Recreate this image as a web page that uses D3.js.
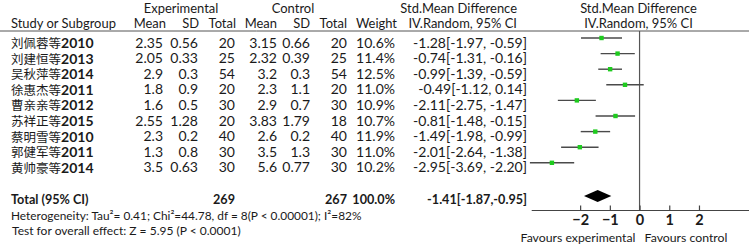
<!DOCTYPE html>
<html>
<head>
<meta charset="utf-8">
<script src="https://cdn.jsdelivr.net/npm/d3@7"></script>
<style>
html,body{margin:0;padding:0;background:#fff;}
svg{display:block;}
text{font-family:Lato,"Open Sans",sans-serif;fill:#1a1a1a;}
</style>
</head>
<body>
<svg id="chart" width="749" height="244"></svg>
<script>
const studies = ["刘佩蓉等2010","刘建恒等2013","吴秋萍等2014","徐惠杰等2011","曹亲亲等2012","苏祥正等2015","蔡明雪等2010","郭健军等2011","黄帅豪等2014"];
const expMean = [2.35, 2.05, 2.9, 1.8, 1.6, 2.55, 2.3, 1.3, 3.5];
const expSD = [0.56, 0.33, 0.3, 0.9, 0.5, 1.28, 0.2, 0.8, 0.63];
const expTotal = [20, 25, 54, 20, 30, 20, 40, 30, 30];
const ctlMean = [3.15, 2.32, 3.2, 2.3, 2.9, 3.83, 2.6, 3.5, 5.6];
const ctlSD = [0.66, 0.39, 0.3, 1.1, 0.7, 1.79, 0.2, 1.3, 0.77];
const ctlTotal = [20, 25, 54, 20, 30, 18, 40, 30, 30];
const weights = [10.6, 11.4, 12.5, 11.0, 10.9, 10.7, 11.9, 11.0, 10.2];
const smd = [-1.28, -0.74, -0.99, -0.49, -2.11, -0.81, -1.49, -2.01, -2.95];
const ciLow = [-1.97, -1.31, -1.39, -1.12, -2.75, -1.48, -1.98, -2.64, -3.69];
const ciHigh = [-0.59, -0.16, -0.59, 0.14, -1.47, -0.15, -0.99, -1.38, -2.20];
const total = {exp: 269, ctl: 267, weight: 100.0, smd: -1.41, low: -1.87, high: -0.95};
const tickValues = [-2, -1, 0, 1, 2];
const heterogeneity = "Heterogeneity: Tau²= 0.41; Chi²=44.78, df = 8(P < 0.00001); I²=82%";
const overall = "Test for overall effect: Z = 5.95 (P < 0.0001)";

const svg = d3.select("#chart");
function fitSize(str, target, bold, maxSize) {
  const p = svg.append("text").style("font-size", "12px").text(str);
  if (bold) p.style("font-weight", "bold");
  const s = 12 * target / p.node().getComputedTextLength();
  p.remove();
  return Math.min(maxSize || 15, s);
}
const fmtCI = (m, l, h, sep) => m.toFixed(2) + "[" + l.toFixed(2) + "," + sep + h.toFixed(2) + "]";
const FS = fitSize(fmtCI(smd[0], ciLow[0], ciHigh[0], " "), 121, false, 14);
const FS_HDR = fitSize("Study or Subgroup", 105, false, FS);
const FS_TOT = fitSize(fmtCI(total.smd, total.low, total.high, ""), 100, true, 14);
const FS_HET = fitSize(heterogeneity, 351, false, 14);
const FS_OV = fitSize(overall, 229, false, 14);
const FS_FAV = fitSize("Favours experimental", 115, false, 14);

const x = d3.scaleLinear().domain([-3.63, 3.65]).range([531.7, 748]);
const y = d3.scalePoint().domain(d3.range(studies.length)).range([38, 162.8]);
const textOff = 4;
const totalY = 196;
const axisY = 210.5;
const lineY = 31;

function txt(xp, yp, s, anchor, opts = {}) {
  const t = svg.append("text").attr("x", xp).attr("y", yp)
    .attr("text-anchor", anchor).attr("dominant-baseline", "central")
    .style("font-size", (opts.size || FS) + "px")
    .text(s);
  if (opts.bold) t.style("font-weight", "bold");
  return t;
}
const H = {size: FS_HDR};
txt(181, 8, "Experimental", "middle", H);
txt(293, 8, "Control", "middle", H);
txt(517, 8, "Std.Mean Difference", "end", H);
txt(638.5, 8, "Std.Mean Difference", "middle", H);
txt(11, 23, "Study or Subgroup", "start", H);
txt(166, 23, "Mean", "end", H);
txt(199, 23, "SD", "end", H);
txt(236, 23, "Total", "end", H);
txt(277, 23, "Mean", "end", H);
txt(310, 23, "SD", "end", H);
txt(347, 23, "Total", "end", H);
txt(397, 23, "Weight", "end", H);
txt(517, 23, "IV.Random, 95% CI", "end", H);
txt(638.5, 23, "IV.Random, 95% CI", "middle", H);

svg.append("line").attr("x1", 0).attr("x2", 749).attr("y1", lineY).attr("y2", lineY)
  .attr("stroke", "#555").attr("stroke-width", 1);

studies.forEach((s, i) => {
  const ty = y(i) + textOff;
  const m = s.match(/^(\D+)(\d+)$/);
  const t = svg.append("text").attr("x", 11).attr("y", ty).attr("dominant-baseline", "central");
  t.append("tspan").style("font-family", "'Noto Sans CJK SC'").style("font-size", "12.5px").text(m[1]);
  t.append("tspan").style("font-weight", "bold").style("font-size", FS + "px").text(m[2]);
  txt(163, ty, String(expMean[i]), "end");
  txt(198, ty, String(expSD[i]), "end");
  txt(235, ty, String(expTotal[i]), "end");
  txt(277, ty, String(ctlMean[i]), "end");
  txt(310, ty, String(ctlSD[i]), "end");
  txt(347, ty, String(ctlTotal[i]), "end");
  txt(395, ty, weights[i].toFixed(1) + "%", "end");
  txt(527, ty, fmtCI(smd[i], ciLow[i], ciHigh[i], " "), "end");
});

const tty = totalY + 3.5;
txt(11, tty, "Total (95% CI)", "start", {bold: true, size: FS_TOT});
txt(235, tty, String(total.exp), "end", {bold: true, size: FS_TOT});
txt(347, tty, String(total.ctl), "end", {bold: true, size: FS_TOT});
txt(395, tty, total.weight.toFixed(1) + "%", "end", {bold: true, size: FS_TOT});
txt(527, tty, fmtCI(total.smd, total.low, total.high, ""), "end", {bold: true, size: FS_TOT});

txt(11, 215, heterogeneity, "start", {size: FS_HET});
txt(12, 230, overall, "start", {size: FS_OV});

svg.append("line").attr("x1", x(0)).attr("x2", x(0)).attr("y1", lineY).attr("y2", axisY)
  .attr("stroke", "#555").attr("stroke-width", 1.2);

const g = svg.append("g");
g.selectAll("line.ci").data(studies).join("line").attr("class", "ci")
  .attr("x1", (d, i) => x(ciLow[i])).attr("x2", (d, i) => x(ciHigh[i]))
  .attr("y1", (d, i) => y(i)).attr("y2", (d, i) => y(i))
  .attr("stroke", "#4a4a4a").attr("stroke-width", 1.4);
g.selectAll("rect.pt").data(studies).join("rect").attr("class", "pt")
  .attr("x", (d, i) => x(smd[i]) - 2.2).attr("y", (d, i) => y(i) - 2.2)
  .attr("width", 4.4).attr("height", 4.4).attr("fill", "#1ecb1e");

const dh = 6;
svg.append("path")
  .attr("d", `M${x(total.low)},${totalY} L${x(total.smd)},${totalY - dh} L${x(total.high)},${totalY} L${x(total.smd)},${totalY + dh} Z`)
  .attr("fill", "#000");

const axis = d3.axisBottom(x).tickValues(tickValues).tickSizeInner(-5).tickSizeOuter(0).tickPadding(4)
  .tickFormat(d3.format("d"));
const ag = svg.append("g").attr("transform", `translate(0,${axisY})`).call(axis);
ag.select(".domain").attr("stroke", "#444").attr("stroke-width", 1.2).attr("d", `M${x.range()[0]},0H${749}`);
ag.selectAll(".tick text").style("font-family", "Lato").style("font-size", (FS + 0.5) + "px").style("font-weight", "bold").attr("fill", "#1a1a1a");
ag.selectAll(".tick line").attr("stroke", "#444").attr("stroke-width", 1.2);

txt(578, 237, "Favours experimental", "middle", {size: FS_FAV});
txt(686, 237, "Favours control", "middle", {size: FS_FAV});
</script>
</body>
</html>
